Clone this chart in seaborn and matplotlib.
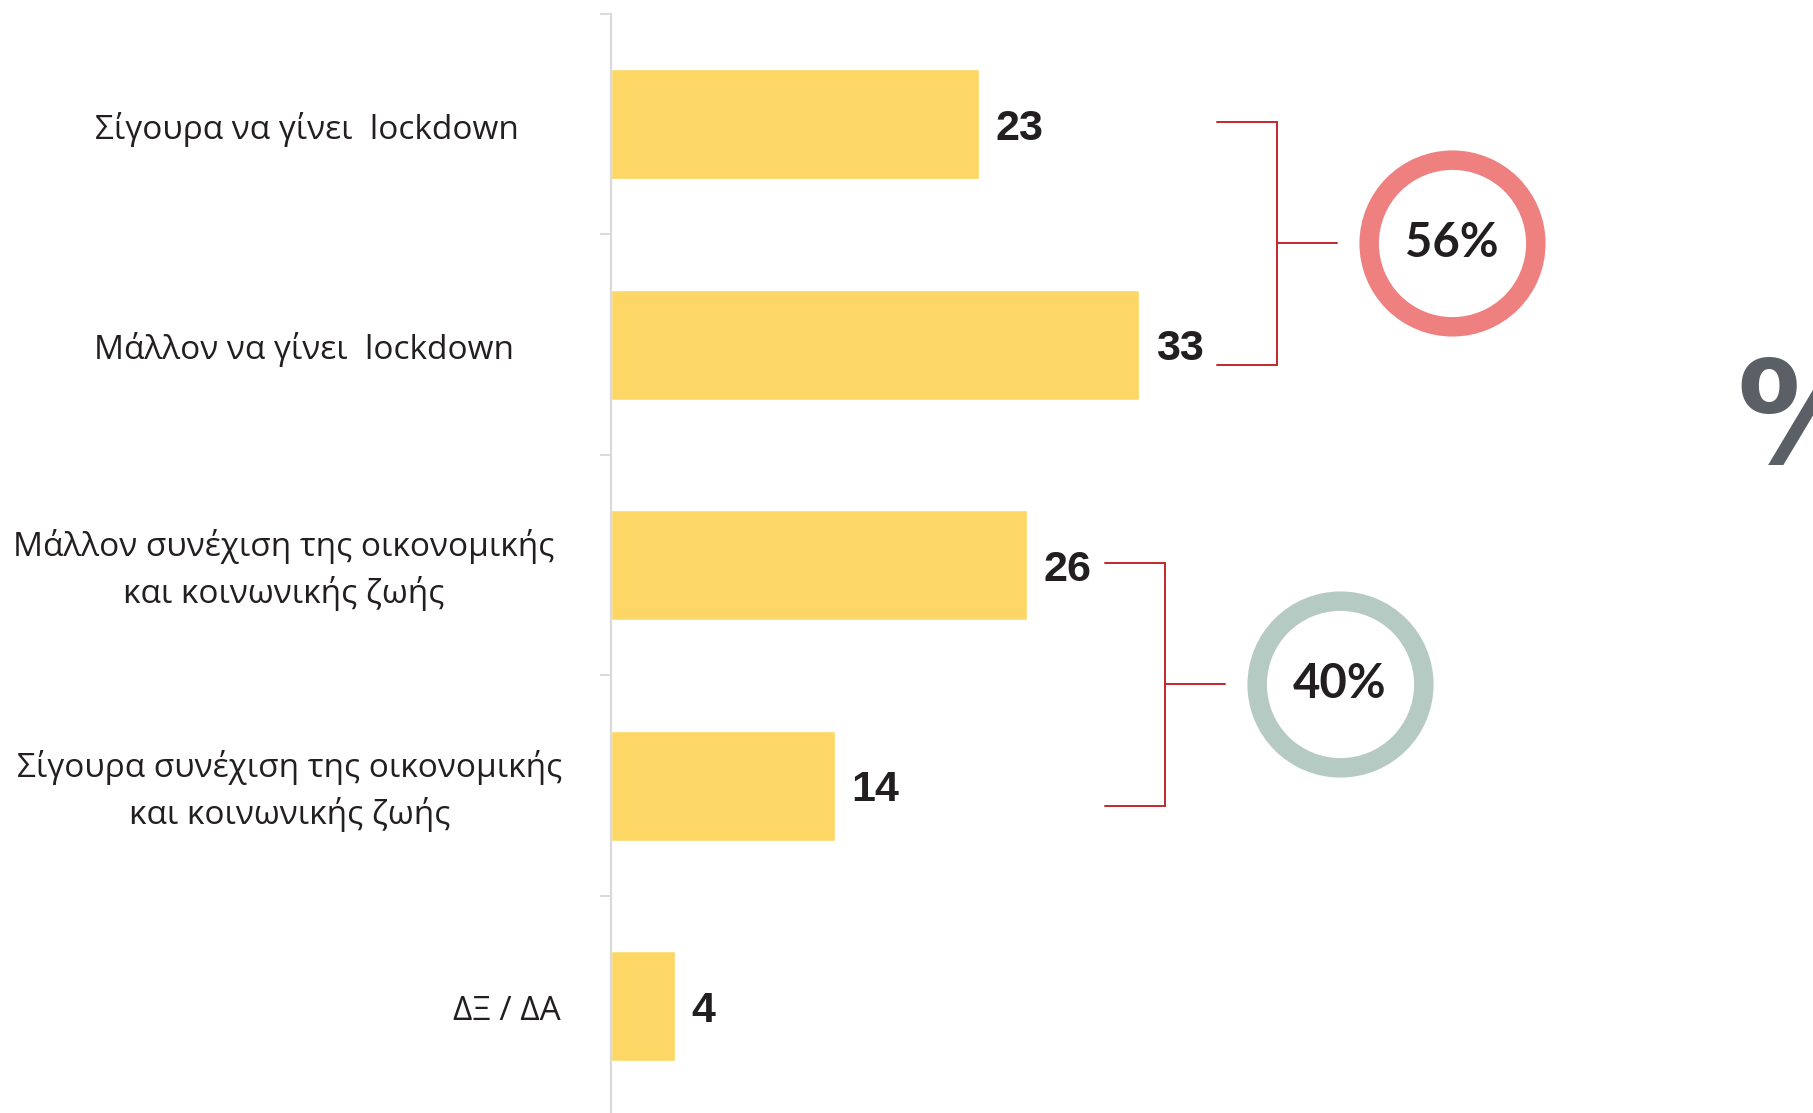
import matplotlib
matplotlib.use('Agg')
import matplotlib.pyplot as plt
import seaborn as sns


# Data (percent)
labels = [
    'Σίγουρα να γίνει  lockdown',
    'Μάλλον να γίνει  lockdown',
    'Μάλλον συνέχιση της οικονομικής\nκαι κοινωνικής ζωής',
    'Σίγουρα συνέχιση της οικονομικής\nκαι κοινωνικής ζωής',
    'ΔΞ / ΔΑ',
]
values = [23, 33, 26, 14, 4]

# bracketed groups (row indices), their totals and ring colours
groups = [[0, 1], [2, 3]]
group_totals = ['56%', '40%']
group_colors = ['#EE8080', '#B4CAC2']

bar_color = '#FDD766'
text_color = '#231F20'
bracket_color = '#C1272D'
spine_color = '#DADADA'

# gap (points) between category text and the axis line, as in the original
label_gaps = [66, 70, 41, 35, 36]

#---------

sns.set_style('white')
plt.rcParams['font.family'] = ['Open Sans', 'DejaVu Sans']

fig = plt.figure(figsize=(18.13, 11.13), dpi=100)
ax = fig.add_axes([611 / 1813, 0, 1 - 611 / 1813, 1 - 14 / 1113])

sns.barplot(x=values, y=labels, orient='h', color=bar_color, width=0.5,
            saturation=1, ax=ax)

ax.set_xlim(0, (1813 - 611) / 16)
ax.set_ylim(-0.5 + 1099 / 220.5, -0.5)

# value labels
texts = ax.bar_label(ax.containers[0], padding=12, fontsize=31,
                     fontweight='bold', color=text_color,
                     family='Liberation Sans')
for t in texts:
    t.set_va('center_baseline')

# axis styling
for side in ['top', 'right', 'bottom']:
    ax.spines[side].set_visible(False)
ax.spines['left'].set_color(spine_color)
ax.spines['left'].set_linewidth(1.6)
ax.set_xticks([])
ax.set_xlabel('')
ax.set_ylabel('')
ax.set_yticklabels([])
ax.tick_params(axis='y', which='major', length=0)
ax.set_yticks([i - 0.5 for i in range(len(values))], minor=True)
ax.tick_params(axis='y', which='minor', left=True, length=8, width=1.4,
               color=spine_color, direction='out')

# category labels
for i, (lab, gap) in enumerate(zip(labels, label_gaps)):
    ax.annotate(lab, xy=(0, i), xycoords=('axes fraction', 'data'),
                xytext=(-gap, -3.5), textcoords='offset points',
                ha='right', va='center', multialignment='center',
                fontsize=24, color=text_color, linespacing=1.45)

# brackets + rings with group totals
for idx, total, col in zip(groups, group_totals, group_colors):
    xmax = max(values[i] for i in idx)
    x0 = xmax + 4.85
    xv = x0 + 3.75
    x1 = x0 + 7.5
    top = idx[0] - 0.01
    bot = idx[-1] + 0.09
    mid = (top + bot) / 2
    ax.plot([x0, xv, xv, x0], [top, top, bot, bot], color=bracket_color,
            lw=1.4, solid_joinstyle='miter', clip_on=False)
    ax.plot([xv, x1], [mid, mid], color=bracket_color, lw=1.4)
    ax.scatter([x0 + 14.7], [mid], s=120 ** 2, facecolor='white',
               edgecolor=col, linewidth=14, zorder=3)
    ax.text(x0 + 14.7, mid, total, ha='center', va='center', fontsize=34,
            fontweight='bold', color=text_color, family='Lato', zorder=4)

# decorative percent sign cut by the right edge
fig.text(1736 / 1813, 1 - 423 / 1113, '%', ha='left', va='center',
         fontsize=102, fontweight='bold', color='#5B5F66',
         family='DejaVu Sans')

plt.savefig('out.png', dpi=100)
